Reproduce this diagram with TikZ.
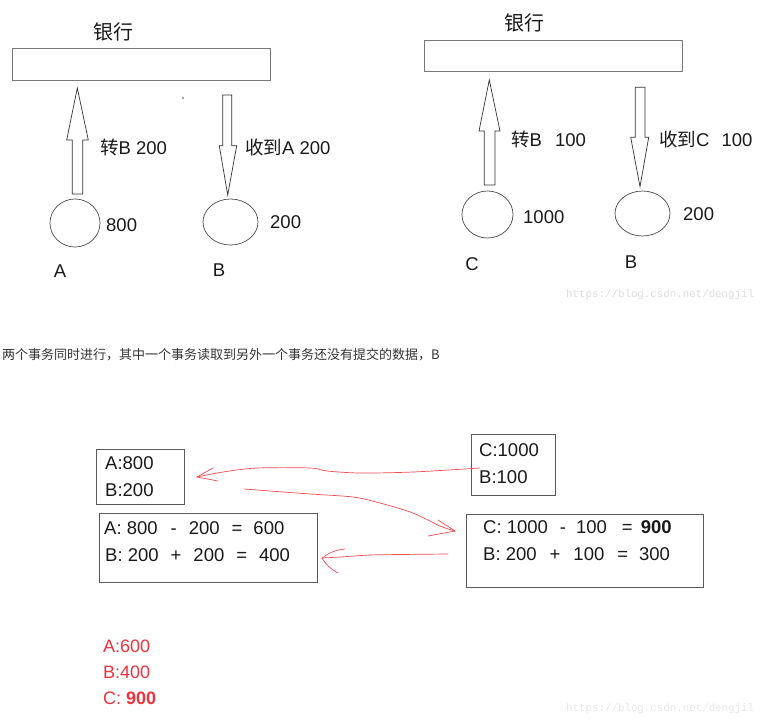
\documentclass[tikz,border=0pt]{standalone}
\usepackage{fontspec}
\setmainfont{Liberation Sans}
\newfontfamily\cjk{Noto Sans CJK SC}
\newfontfamily\wmfont{Liberation Mono}
\usetikzlibrary{shapes.geometric}
\definecolor{boxgray}{RGB}{90,90,90}
\definecolor{bankgray}{RGB}{120,120,120}
\definecolor{hand}{RGB}{245,75,80}
\definecolor{redtxt}{RGB}{238,50,60}
\definecolor{wm}{RGB}{220,220,220}
\definecolor{txt}{RGB}{25,25,25}
\begin{document}
\begin{tikzpicture}[x=1pt,y=-1pt,
  lbl/.style={font=\fontsize{18.5}{22}\selectfont, inner sep=0pt, anchor=west, text=txt},
  cnr/.style={font=\fontsize{18.5}{22}\selectfont, inner sep=0pt, text=txt},
  title/.style={font=\cjk\fontsize{20}{24}\selectfont, inner sep=0pt, text=txt},
  bank/.style={draw=bankgray, line width=0.8pt, inner sep=0pt},
  ell/.style={draw=black!70, ellipse, line width=0.7pt, inner sep=0pt},
  bigarrow/.style={draw=black!80, line width=0.7pt, fill=white},
  box/.style={draw=boxgray, line width=0.9pt, inner sep=0pt},
  hand/.style={draw=hand, line width=0.7pt, line cap=round, line join=round},
  wmtext/.style={font=\wmfont\fontsize{10.8}{13}\selectfont, inner sep=0pt, anchor=west},
  redlbl/.style={font=\fontsize{18}{22}\selectfont, inner sep=0pt, anchor=west, text=redtxt}]
\useasboundingbox (0,0) rectangle (761,721);

% ---------- left panel ----------
\node[title] (t1) at (113,32) {银行};
\node[bank, minimum width=258, minimum height=32] (bank1) at (141,64) {};
\draw[bigarrow] (72.3,194) -- (72.3,140) -- (66.7,140) -- (77.3,88) -- (88.3,140) -- (82.7,140) -- (82.7,194) -- cycle;
\draw[bigarrow] (222.7,95) -- (222.7,145.7) -- (219.3,145.7) -- (227.7,195) -- (236.7,145.7) -- (231.7,145.7) -- (231.7,95) -- cycle;
\node[lbl] (l1) at (100,147) {{\cjk 转}B 200};
\node[lbl] (l2) at (245,147) {{\cjk 收到}A 200};
\node[ell, minimum width=50, minimum height=48] (eA) at (75,223) {};
\node[ell, minimum width=55, minimum height=46] (eB) at (230.5,222) {};
\node[lbl] (vA) at (106,225) {800};
\node[lbl] (vB) at (270,222) {200};
\node[cnr] (nA) at (60,271) {A};
\node[cnr] (nB) at (219,270) {B};
\fill[black!70] (183,98) circle (0.8);

% ---------- right panel ----------
\node[title] (t2) at (524,23) {银行};
\node[bank, minimum width=258, minimum height=31] (bank2) at (553,55.5) {};
\draw[bigarrow] (484.3,185) -- (484.3,131) -- (479,131) -- (489.3,80) -- (500,131) -- (495,131) -- (495,185) -- cycle;
\draw[bigarrow] (635.3,87.3) -- (635.3,137.3) -- (630.7,137.3) -- (640,186.7) -- (648.7,137.3) -- (645,137.3) -- (645,87.3) -- cycle;
\node[lbl] (l3) at (511,139) {{\cjk 转}B\hspace{13pt}100};
\node[lbl] (l4) at (659,139) {{\cjk 收到}C\hspace{12pt}100};
\node[ell, minimum width=51, minimum height=47] (eC) at (487.5,214.5) {};
\node[ell, minimum width=55, minimum height=45] (eB2) at (642.5,213.5) {};
\node[lbl] (vC) at (523,217) {1000};
\node[lbl] (vB2) at (683,214) {200};
\node[cnr] (nC) at (472,264) {C};
\node[cnr] (nB2) at (631,262) {B};
\node[wmtext, text=wm] (wm1) at (566,295) {https://blog.csdn.net/dengjil};

% ---------- sentence ----------
\node[font=\cjk\fontsize{13}{16}\selectfont, text=black!80, inner sep=0pt, anchor=west] (sent) at (2,355) {两个事务同时进行，其中一个事务读取到另外一个事务还没有提交的数据，B};

% ---------- bottom boxes ----------
\node[box, minimum width=88, minimum height=55] (b1) at (140,476.5) {};
\node[lbl] (b1a) at (105,463) {A:800};
\node[lbl] (b1b) at (105,490) {B:200};

\node[box, minimum width=218, minimum height=69] (b2) at (208,547.5) {};
\node[lbl] (b2a) at (104,528) {A: 800\hspace{13pt}-\hspace{12pt}200\hspace{12pt}=\hspace{11pt}600};
\node[lbl] (b2b) at (105,555) {B: 200\hspace{12pt}+\hspace{12pt}200\hspace{12pt}=\hspace{12pt}400};

\node[box, minimum width=84, minimum height=61] (b3) at (513,464.5) {};
\node[lbl] (b3a) at (479,450) {C:1000};
\node[lbl] (b3b) at (479,477) {B:100};

\node[box, minimum width=237, minimum height=73] (b4) at (584.5,550.5) {};
\node[lbl] (b4a) at (483,527) {C: 1000\hspace{12pt}-\hspace{10pt}100\hspace{15pt}=\hspace{8pt}\textbf{900}};
\node[lbl] (b4b) at (483,554) {B: 200\hspace{13pt}+\hspace{13pt}100\hspace{13pt}=\hspace{11pt}300};

% ---------- red hand-drawn arrows ----------
\coordinate (r1s) at (480,468);
\coordinate (r1t) at (197,477);
\draw[hand] plot[smooth, tension=0.5] coordinates {(r1s) (413,472) (360,473) (327,471) (310,468) (257,468) (223,472) (r1t)};
\draw[hand] (r1t) -- ++(16,-9);
\draw[hand] (r1t) -- ++(21,4);

\coordinate (r2s) at (244,489);
\coordinate (r2t) at (455,531);
\draw[hand] plot[smooth, tension=0.5] coordinates {(r2s) (270,491) (310,494) (353,497) (380,503) (413,513) (440,526) (r2t)};
\draw[hand] (r2t) -- ++(-17,-11);
\draw[hand] (r2t) -- ++(-27,5);

\coordinate (r3s) at (448,554);
\coordinate (r3t) at (322,558);
\draw[hand] plot[smooth, tension=0.5] coordinates {(r3s) (400,554.5) (370,555) (340,557) (r3t)};
\draw[hand] (r3t) to[bend left=15] ++(23,-9);
\draw[hand] (r3t) to[bend right=15] ++(16,15);

% ---------- red result ----------
\node[redlbl] (res1) at (103,646) {A:600};
\node[redlbl] (res2) at (103,672) {B:400};
\node[redlbl] (res3) at (103,698) {C: \textbf{900}};

\node[wmtext, text=wm!70] (wm2) at (566,709) {https://blog.csdn.net/dengjil};
\end{tikzpicture}
\end{document}
